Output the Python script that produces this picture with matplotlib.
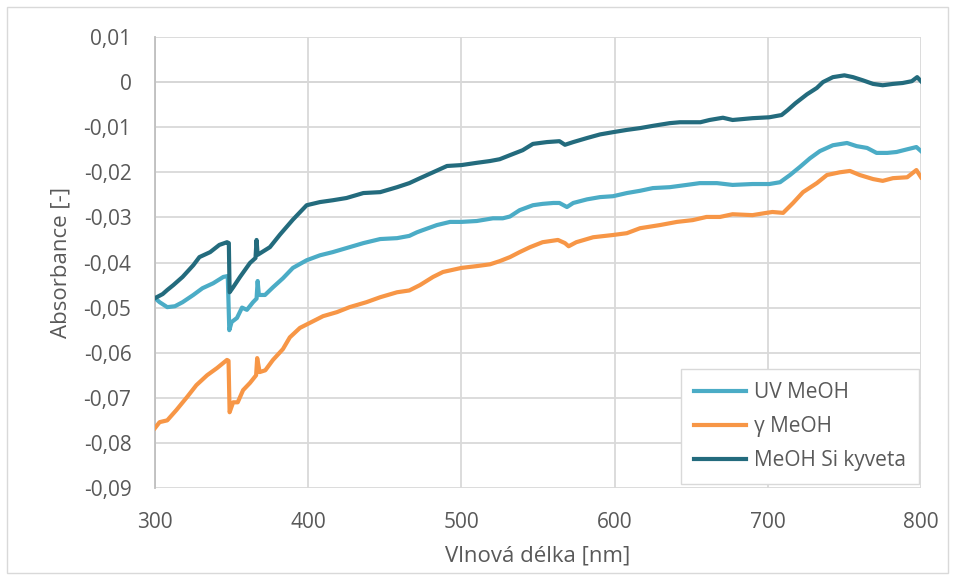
import matplotlib
matplotlib.use("Agg")
import matplotlib.pyplot as plt
from matplotlib.patches import Rectangle
from matplotlib.ticker import FuncFormatter

plt.rcParams['font.family'] = ['Open Sans', 'DejaVu Sans']

# UV MeOH
uv_wl = [300, 303, 308, 313, 318, 325, 331, 338, 344.6, 347.5, 348.5, 350, 353.5, 356.8,
         360, 364, 366.3, 367, 367.8, 371.8, 377, 383.5, 390, 399, 407.7, 416, 425, 436,
         447, 458, 466, 471, 475, 484, 492.6, 500, 510, 520.6, 527, 531.7, 538, 546.7,
         553, 560, 564, 568.9, 573, 582, 590.5, 599, 608, 616.6, 625, 636, 647, 655.6,
         666.8, 677, 690, 701, 708, 714.5, 721, 727.5, 734, 742.5, 751.7, 758, 764.8,
         771, 778, 784, 791, 797, 800]
uv_abs = [-0.0479, -0.0488, -0.0499, -0.0497, -0.0488, -0.0472, -0.0457, -0.0446, -0.0432,
          -0.0430, -0.0550, -0.0532, -0.0523, -0.0500, -0.0505, -0.0488, -0.0480, -0.0441,
          -0.0472, -0.0472, -0.0455, -0.0435, -0.0412, -0.0395, -0.0384, -0.0377, -0.0368,
          -0.0357, -0.0348, -0.0346, -0.0341, -0.0333, -0.0328, -0.0317, -0.0310, -0.0310,
          -0.0308, -0.0302, -0.0302, -0.0298, -0.0284, -0.0273, -0.0270, -0.0268, -0.0268,
          -0.0277, -0.0268, -0.0260, -0.0255, -0.0253, -0.0246, -0.0241, -0.0235, -0.0233,
          -0.0228, -0.0224, -0.0224, -0.0228, -0.0226, -0.0226, -0.0222, -0.0206, -0.0188,
          -0.0169, -0.0153, -0.0140, -0.0135, -0.0142, -0.0146, -0.0157, -0.0157, -0.0155,
          -0.0149, -0.0144, -0.0153]

# gamma MeOH
g_wl = [300, 303, 308, 314, 321, 327, 334, 340.5, 347, 348, 348.7, 351, 354, 357.5, 362,
        366, 366.7, 368.3, 372, 377, 383.5, 388, 394.6, 401, 409.7, 418.8, 427, 438, 447,
        458, 466, 473, 481.5, 488, 500, 510, 518.7, 525, 531.7, 538, 544.8, 553, 563,
        567.6, 570, 575, 586, 599, 608, 616.6, 629.6, 640.7, 651, 660, 668.8, 677, 690,
        699, 703, 710, 716.5, 723, 732, 738.6, 747, 753.6, 760, 768.7, 775, 781.7, 791,
        797, 800]
g_abs = [-0.0767, -0.0754, -0.0750, -0.0727, -0.0698, -0.0672, -0.0650, -0.0634, -0.0616,
         -0.0618, -0.0732, -0.0710, -0.0710, -0.0683, -0.0667, -0.0650, -0.0612, -0.0643,
         -0.0639, -0.0616, -0.0592, -0.0566, -0.0545, -0.0534, -0.0519, -0.0510, -0.0499,
         -0.0488, -0.0477, -0.0466, -0.0462, -0.0450, -0.0432, -0.0421, -0.0412, -0.0408,
         -0.0404, -0.0397, -0.0388, -0.0377, -0.0366, -0.0355, -0.0350, -0.0357, -0.0364,
         -0.0355, -0.0344, -0.0339, -0.0335, -0.0324, -0.0317, -0.0310, -0.0306, -0.0299,
         -0.0299, -0.0293, -0.0295, -0.0290, -0.0288, -0.0290, -0.0268, -0.0244, -0.0224,
         -0.0206, -0.0200, -0.0197, -0.0206, -0.0215, -0.0219, -0.0213, -0.0211, -0.0195,
         -0.0211]

# MeOH Si kyveta
si_wl = [300, 305, 308, 312, 318, 325, 329, 336, 342, 347, 348.2, 348.7, 351, 355.5, 362,
         365.6, 366.3, 367, 375, 381.6, 390, 399, 407.7, 416, 425, 436, 447, 458, 466, 473,
         481.5, 490.6, 500, 510, 518.7, 525, 531.7, 540, 546.7, 555.8, 564, 567.6, 573,
         582, 590.5, 599, 608, 616.6, 625, 636, 642.7, 656, 662, 670.7, 677, 690, 701, 709,
         713, 718, 725.6, 732, 736, 742.5, 750, 755.6, 762, 768.7, 775, 781.7, 788, 794,
         797.5, 800]
si_abs = [-0.0479, -0.0470, -0.0461, -0.0450, -0.0432, -0.0406, -0.0388, -0.0377, -0.0361,
          -0.0355, -0.0357, -0.0466, -0.0455, -0.0432, -0.0401, -0.0390, -0.0350, -0.0383,
          -0.0366, -0.0338, -0.0305, -0.0273, -0.0266, -0.0262, -0.0257, -0.0246, -0.0244,
          -0.0233, -0.0224, -0.0213, -0.0200, -0.0186, -0.0184, -0.0179, -0.0175, -0.0171,
          -0.0162, -0.0151, -0.0137, -0.0133, -0.0131, -0.0139, -0.0133, -0.0124, -0.0116,
          -0.0111, -0.0106, -0.0102, -0.0097, -0.0091, -0.0089, -0.0089, -0.0084, -0.0079,
          -0.0084, -0.0080, -0.0078, -0.0073, -0.0062, -0.0047, -0.0027, -0.0013, 0.0000,
          0.0011, 0.0015, 0.0011, 0.0004, -0.0004, -0.0007, -0.0004, -0.0002, 0.0002,
          0.0011, 0.0002]

x_ticks = [300, 400, 500, 600, 700, 800]
y_ticks = [0.01, 0.0, -0.01, -0.02, -0.03, -0.04, -0.05, -0.06, -0.07, -0.08, -0.09]

labels = ['UV MeOH', 'γ MeOH', 'MeOH Si kyveta']
colors = ['#4BACC6', '#F79646', '#236B7D']

W, H = 955, 579
fig = plt.figure(figsize=(W / 100, H / 100), dpi=100)
fig.patches.append(Rectangle((7 / W, 6 / H), 941 / W, 566 / H, transform=fig.transFigure,
                             fill=False, edgecolor='#d9d9d9', linewidth=1.0))
ax = fig.add_axes([155 / W, 1 - 488 / H, 766 / W, 451 / H])

for wl, ab, lab, col in zip([uv_wl, g_wl, si_wl], [uv_abs, g_abs, si_abs], labels, colors):
    ax.plot(wl, ab, color=col, lw=3.0, label=lab, solid_joinstyle='round', zorder=3)

ax.set_xlim(300, 800)
ax.set_ylim(-0.09, 0.01)
ax.set_xticks(x_ticks)
ax.set_yticks(y_ticks)


def comma_fmt(v, pos):
    if abs(v) < 1e-12:
        return '0'
    return f'{v:.2f}'.replace('.', ',')


ax.yaxis.set_major_formatter(FuncFormatter(comma_fmt))
ax.grid(True, color='#d9d9d9', lw=1.3, zorder=0)
ax.axhline(0, color='#bfbfbf', lw=1.3, zorder=1)
for s in ['top', 'right', 'bottom']:
    ax.spines[s].set_visible(False)
ax.spines['left'].set_color('#bfbfbf')
ax.spines['left'].set_linewidth(1.3)
ax.tick_params(length=0, labelsize=15, labelcolor='#595959')
ax.tick_params(axis='y', pad=17)
ax.tick_params(axis='x', pad=17)

ax.set_xlabel('Vlnová délka [nm]', fontsize=16, color='#595959', labelpad=9)
ax.set_ylabel('Absorbance [-]', fontsize=16, color='#595959', labelpad=9)

leg = ax.legend(loc='lower right', bbox_to_anchor=(0.997, 0.009), fontsize=15,
                frameon=True, fancybox=False, edgecolor='#d9d9d9', framealpha=1,
                handlelength=2.5, handletextpad=0.35, labelspacing=0.62, borderpad=0.62,
                borderaxespad=0)
for t in leg.get_texts():
    t.set_color('#595959')
leg.get_frame().set_linewidth(1.0)

fig.savefig('out.png', dpi=100)
